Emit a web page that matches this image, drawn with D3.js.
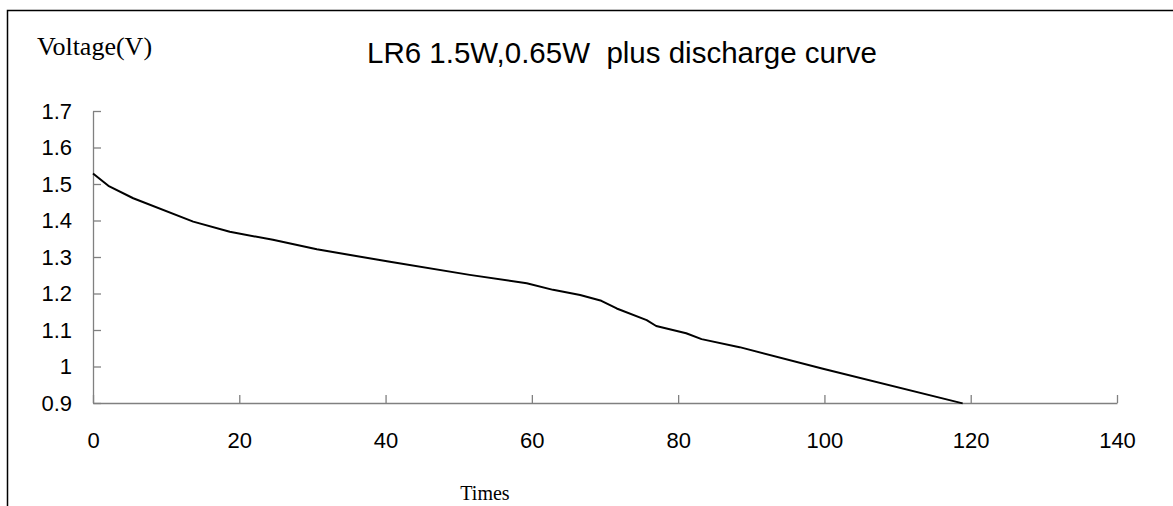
<!DOCTYPE html>
<html>
<head>
<meta charset="utf-8">
<script src="https://cdn.jsdelivr.net/npm/d3@7"></script>
<style>
  body { margin: 0; background: #fff; }
  svg { display: block; }
</style>
</head>
<body>
<div id="chart"></div>
<script>
// 放電データ
const times = [0, 2.1, 5.5, 13.7, 18.7, 24.6, 30.6, 40.6, 51.5, 59.3, 62.9, 66.6, 69.5, 71.6, 75.7, 77.0, 81.1, 83.2, 88.4, 99.8, 118.9];
const voltages = [1.529, 1.495, 1.461, 1.397, 1.369, 1.347, 1.321, 1.287, 1.251, 1.228, 1.21, 1.196, 1.18, 1.159, 1.127, 1.111, 1.091, 1.075, 1.053, 0.994, 0.899];
const xTickValues = [0, 20, 40, 60, 80, 100, 120, 140];
const yTickValues = [0.9, 1, 1.1, 1.2, 1.3, 1.4, 1.5, 1.6, 1.7];

const width = 1173;
const height = 506;

const svg = d3.select("#chart").append("svg")
    .attr("width", width)
    .attr("height", height);

// 外枠（上と左だけ見えている）
svg.append("path")
    .attr("d", "M7.5," + height + "V10.5H" + width)
    .attr("fill", "none")
    .attr("stroke", "#000")
    .attr("stroke-width", 1.5);

const dataset = times.map((t, i) => ({ t: t, v: voltages[i] }));

const xScale = d3.scaleLinear().domain([0, 140]).range([93, 1117]);
const yScale = d3.scaleLinear().domain([0.9, 1.7]).range([403, 111]);

// X軸
const axisx = d3.axisBottom(xScale)
    .tickValues(xTickValues)
    .tickSize(-8)
    .tickSizeOuter(0)
    .tickPadding(29)
    .tickFormat(d3.format("d"));
const gx = svg.append("g")
    .attr("transform", "translate(0," + yScale(0.9) + ")")
    .call(axisx);

// Y軸
const axisy = d3.axisLeft(yScale)
    .tickValues(yTickValues)
    .tickSize(-8)
    .tickSizeOuter(0)
    .tickPadding(21)
    .tickFormat(d => d === 1 ? "1" : d3.format(".1f")(d));
const gy = svg.append("g")
    .attr("transform", "translate(" + xScale(0) + ",0)")
    .call(axisy);

[gx, gy].forEach(g => {
    g.select(".domain").attr("stroke", "#808080").attr("stroke-width", 1.3);
    g.selectAll(".tick line").attr("stroke", "#808080").attr("stroke-width", 1.3);
    g.selectAll(".tick text")
        .attr("fill", "#000")
        .style("font-family", "'Liberation Sans', Arial, sans-serif")
        .style("font-size", "22px");
});

// 折れ線
const line = d3.line()
    .x(d => xScale(d.t))
    .y(d => yScale(d.v));
svg.append("path")
    .datum(dataset)
    .attr("fill", "none")
    .attr("stroke", "#000")
    .attr("stroke-width", 2)
    .attr("stroke-linejoin", "round")
    .attr("d", line);

// タイトル
svg.append("text")
    .attr("x", 622)
    .attr("y", 63)
    .attr("text-anchor", "middle")
    .style("font-family", "'Liberation Sans', Arial, sans-serif")
    .style("font-size", "29.5px")
    .text("LR6 1.5W,0.65W\u00a0\u00a0plus discharge curve");

// 軸ラベル
svg.append("text")
    .attr("x", 37)
    .attr("y", 55)
    .style("font-family", "'Liberation Serif', 'Times New Roman', serif")
    .style("font-size", "26px")
    .text("Voltage(V)");

svg.append("text")
    .attr("x", 485)
    .attr("y", 500)
    .attr("text-anchor", "middle")
    .style("font-family", "'Liberation Serif', 'Times New Roman', serif")
    .style("font-size", "20px")
    .text("Times");
</script>
</body>
</html>
